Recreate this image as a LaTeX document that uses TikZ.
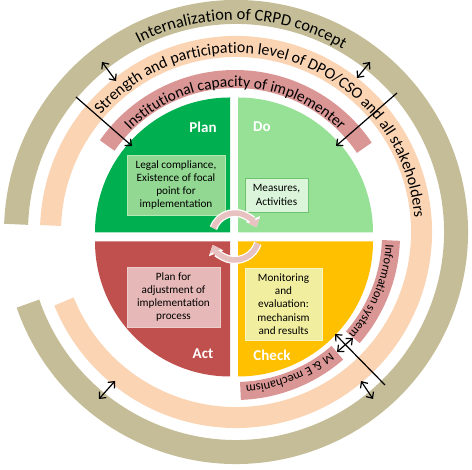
\documentclass[tikz,border=0pt]{standalone}
\usepackage{fontspec}
\setmainfont{Carlito}
\usepackage {tikz}
\usetikzlibrary {positioning}
\usetikzlibrary{calc}
\usetikzlibrary{arrows.meta}
\usetikzlibrary{decorations.text}
\definecolor{khaki}{HTML}{C4BD97}
\definecolor{peach}{HTML}{FBD4B4}
\definecolor{rosy}{HTML}{D99694}
\definecolor{plangreen}{HTML}{00B050}
\definecolor{dogreen}{HTML}{96E196}
\definecolor{actred}{HTML}{C0504D}
\definecolor{checkamber}{HTML}{FFC000}
\definecolor{cyclepink}{HTML}{E8C2C1}
\tikzset{
    band/.style = {line width=#1, line cap=butt},
    quadrant/.style = {fill=#1, draw=none},
    infobox/.style = {rectangle, align=center, inner sep=0pt, font=\fontsize{11.2}{13.3}\selectfont},
    stagelabel/.style = {text=white, font=\bfseries\fontsize{15}{18}\selectfont},
    centretext/.style = {decorate, decoration={text along path, text={#1}, text align=center}},
    lefttext/.style = {decorate, decoration={text along path, text={#1}, text align=left}},
    link/.style = {black, line width=1.2pt, -{Straight Barb[length=5pt,width=9pt]}},
    duallink/.style = {black, line width=1.2pt, {Straight Barb[length=5pt,width=9pt]}-{Straight Barb[length=5pt,width=9pt]}},
    cyclearrow/.style = {draw=cyclepink, line width=5.5pt, -{Triangle[width=12pt,length=7pt]},
        preaction={draw=white, line width=8pt, -{Triangle[width=15pt,length=9pt]}}}}

\begin{document}
\begin{tikzpicture}[x=1pt,y=1pt]
        \useasboundingbox (0,0) rectangle (472,470);
        \coordinate (Oring) at (236,238);
        \coordinate (Opink) at (235,235);
        \coordinate (Opie) at (234,233);
        % outer rings
        \draw[khaki,band=24] ($(Oring)+(-161:220)$) arc[start angle=-161, end angle=178, radius=220];
        \draw[peach,band=21] ($(Oring)+(-158:185.5)$) arc[start angle=-158, end angle=178, radius=185.5];
        % inner bands
        \draw[rosy,band=18] ($(Opink)+(34:156)$) arc[start angle=34, end angle=145, radius=156];
        \draw[rosy,band=18] ($(Opink)+(-2:156)$) arc[start angle=-2, end angle=-41, radius=156];
        \draw[rosy,band=18] ($(Opink)+(-49:156)$) arc[start angle=-49, end angle=-88, radius=156];
        % PDCA quadrants
        \fill[quadrant=plangreen] ($(Opie)+(-4,4.5)$) -- ++(-135,0) arc[start angle=180, end angle=90, radius=135] -- cycle;
        \fill[quadrant=dogreen] ($(Opie)+(4,4.5)$) -- ++(0,135) arc[start angle=90, end angle=0, radius=135] -- cycle;
        \fill[quadrant=checkamber] ($(Opie)+(4,-4.5)$) -- ++(135,0) arc[start angle=0, end angle=-90, radius=135] -- cycle;
        \fill[quadrant=actred] ($(Opie)+(-4,-4.5)$) -- ++(0,-135) arc[start angle=270, end angle=180, radius=135] -- cycle;
        \node[infobox, fill={rgb,255:red,146;green,216;blue,146}, draw={rgb,255:red,180;green,232;blue,180}, minimum width=98, minimum height=60] (planbox) at (176,285) {Legal compliance,\\Existence of focal\\point for\\implementation};
        \node[infobox, fill={rgb,255:red,218;green,245;blue,218}, draw={rgb,255:red,110;green,196;blue,110}, minimum width=63, minimum height=34] (dobox) at (276.5,275) {Measures,\\Activities};
        \node[infobox, fill={rgb,255:red,230;green,185;blue,184}, draw={rgb,255:red,238;green,206;blue,205}, minimum width=93, minimum height=60] (actbox) at (173.5,173) {Plan for\\adjustment of\\implementation\\process};
        \node[infobox, fill={rgb,255:red,242;green,238;blue,160}, draw={rgb,255:red,248;green,244;blue,196}, minimum width=77, minimum height=72] (checkbox) at (283.5,166) {Monitoring\\and\\evaluation:\\mechanism\\and results};
        \node[stagelabel] (plan) at (203,343) {Plan};
        \node[stagelabel] (do) at (262,343) {Do};
        \node[stagelabel] (act) at (203,116) {Act};
        \node[stagelabel] (check) at (272,115) {Check};
        % cycle
        \draw[cyclearrow] ($(235,234)+(160:23)$) arc[start angle=160, end angle=22, radius=23];
        \draw[cyclearrow] ($(235,234)+(-18:24)$) arc[start angle=-18, end angle=-158, radius=24];
        % texts on rings
        \path[centretext={|\fontsize{16.5}{19}\selectfont|Internalization of CRPD concept}] ($(Oring)+(148.5:212)$) arc[start angle=148.5, end angle=28.5, radius=212];
        \path[lefttext={|\fontsize{16}{19}\selectfont|Strength and participation level of DPO/CSO and all stakeholders}] ($(Oring)+(139:179)$) arc[start angle=139, end angle=-20, radius=179];
        \path[centretext={|\fontsize{15.5}{18}\selectfont|Institutional capacity of implementer}] ($(Opink)+(137:148)$) arc[start angle=137, end angle=43, radius=148];
        \path[lefttext={|\fontsize{12.5}{15}\selectfont|Information system}] ($(Opink)+(-3.5:151)$) arc[start angle=-3.5, end angle=-60, radius=151];
        \path[lefttext={|\fontsize{12.5}{15}\selectfont|M {\&} E mechanism}] ($(Opink)+(-51:151)$) arc[start angle=-51, end angle=-110, radius=151];
        % links
        \coordinate (l1s) at (76,373); \coordinate (l1e) at (132,324);
        \coordinate (l2s) at (397,377); \coordinate (l2e) at (336,324);
        \coordinate (l3s) at (385,85); \coordinate (l3e) at (335,136);
        \draw[link] (l1s) -- (l1e);
        \draw[link] (l2s) -- (l2e);
        \draw[link] (l3s) -- (l3e);
        \coordinate (d1a) at (102,408); \coordinate (d1b) at (116,389);
        \coordinate (d2a) at (370,408); \coordinate (d2b) at (357,392);
        \coordinate (d3a) at (99,71); \coordinate (d3b) at (115,89);
        \coordinate (d4a) at (373,71); \coordinate (d4b) at (361,89);
        \coordinate (d5a) at (337,118); \coordinate (d5b) at (353,132);
        \draw[duallink] (d1a) -- (d1b);
        \draw[duallink] (d2a) -- (d2b);
        \draw[duallink] (d3a) -- (d3b);
        \draw[duallink] (d4a) -- (d4b);
        \draw[duallink] (d5a) -- (d5b);
\end{tikzpicture}
\end{document}
